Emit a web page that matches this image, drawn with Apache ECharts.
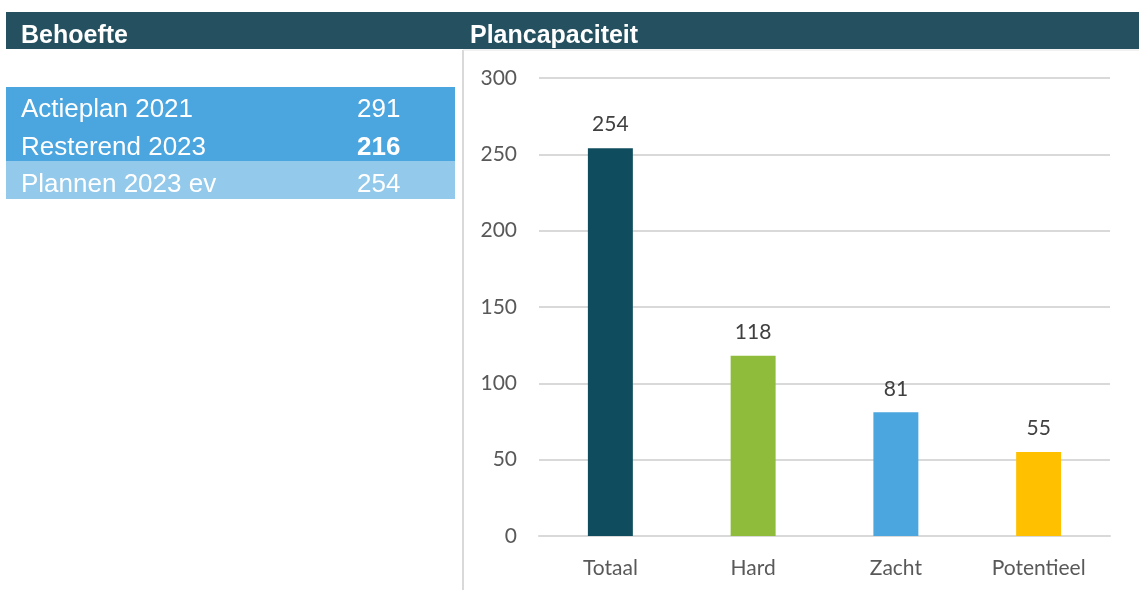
<!DOCTYPE html>
<html>
<head>
<meta charset="utf-8">
<script src="https://cdn.jsdelivr.net/npm/echarts@6/dist/echarts.min.js"></script>
<style>
  html, body { margin: 0; padding: 0; background: #fff; }
  #main { width: 1139px; height: 590px; }
</style>
</head>
<body>
<div id="main"></div>
<script>
// chart data
var categories = ['Totaal', 'Hard', 'Zacht', 'Potentieel'];
var values = [254, 118, 81, 55];
var barColors = ['#0F4D5E', '#8FBC3A', '#4BA5DF', '#FFC000'];

// left side table (Behoefte)
var tableLabels = ['Actieplan 2021', 'Resterend 2023', 'Plannen 2023 ev'];
var tableValues = [291, 216, 254];

var myChart = echarts.init(document.getElementById('main'));

var rowY = [110, 148, 185];
var tableGraphics = [
  { type: 'rect', shape: { x: 6, y: 87, width: 449, height: 74 }, style: { fill: '#4BA5DF' } },
  { type: 'rect', shape: { x: 6, y: 161, width: 449, height: 38 }, style: { fill: '#93C9EB' } }
];
tableLabels.forEach(function (lbl, i) {
  tableGraphics.push({
    type: 'text', x: 21, y: rowY[i],
    style: { text: lbl, fill: '#fff', font: '26px "Liberation Sans", Arial', verticalAlign: 'middle' }
  });
  tableGraphics.push({
    type: 'text', x: 357, y: rowY[i],
    style: {
      text: String(tableValues[i]), fill: '#fff', verticalAlign: 'middle',
      font: (i === 1 ? 'bold ' : '') + '26px "Liberation Sans", Arial'
    }
  });
});

var option = {
  animation: false,
  graphic: [
    { type: 'rect', shape: { x: 6, y: 12, width: 1133, height: 37 }, style: { fill: '#24505F' } },
    { type: 'text', x: 21, y: 36, style: { text: 'Behoefte', fill: '#fff', font: 'bold 25px "Liberation Sans", Arial', verticalAlign: 'middle' } },
    { type: 'text', x: 470, y: 36, style: { text: 'Plancapaciteit', fill: '#fff', font: 'bold 25px "Liberation Sans", Arial', verticalAlign: 'middle' } },
    { type: 'line', shape: { x1: 463, y1: 50, x2: 463, y2: 590 }, style: { stroke: '#D9D9D9', lineWidth: 2 } },
    { type: 'line', shape: { x1: 463, y1: 50, x2: 1139, y2: 50 }, style: { stroke: '#E4E4E4', lineWidth: 1 } }
  ].concat(tableGraphics),
  grid: { left: 539, right: 29, top: 78, bottom: 54 },
  xAxis: {
    type: 'category',
    data: categories,
    axisTick: { show: false },
    axisLine: { lineStyle: { color: '#D9D9D9', width: 2 } },
    axisLabel: { color: '#595959', fontFamily: 'Lato', fontSize: 21, margin: 22 }
  },
  yAxis: {
    type: 'value',
    min: 0, max: 300, interval: 50,
    axisLabel: { color: '#595959', fontFamily: 'Lato', fontSize: 21, margin: 22 },
    splitLine: { lineStyle: { color: '#D9D9D9', width: 2 } }
  },
  series: [{
    type: 'bar',
    barWidth: '31.5%',
    data: values.map(function (v, i) {
      return { value: v, itemStyle: { color: barColors[i] } };
    }),
    label: {
      show: true, position: 'top', distance: 13,
      color: '#404040', fontFamily: 'Lato', fontSize: 21
    }
  }]
};

myChart.setOption(option);
</script>
</body>
</html>
